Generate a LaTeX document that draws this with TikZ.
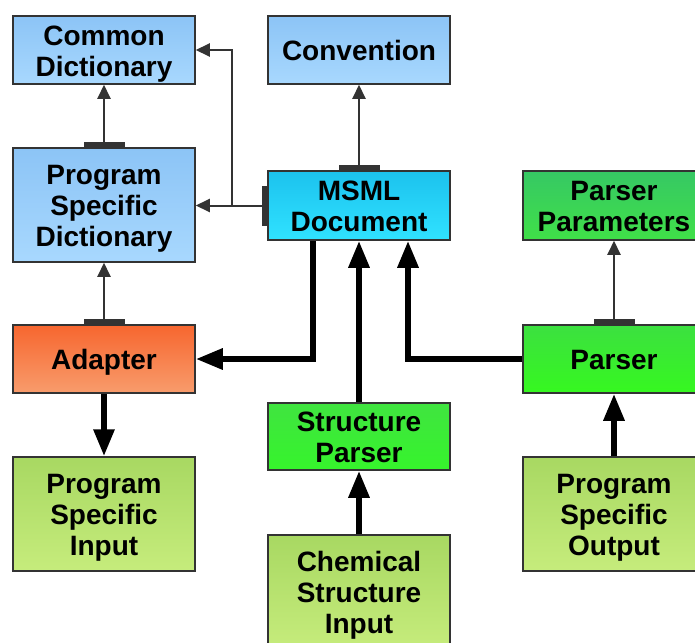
\documentclass[tikz,border=0pt]{standalone}
\usepackage{fontspec}
\setmainfont{Liberation Sans}
\usetikzlibrary{arrows.meta}

\definecolor{edgegray}{HTML}{333333}
\definecolor{blueA}{HTML}{8CC4F6}
\definecolor{blueB}{HTML}{A8D8FE}
\definecolor{cyanA}{HTML}{1CC2EE}
\definecolor{cyanB}{HTML}{30E2FF}
\definecolor{ppA}{HTML}{36C864}
\definecolor{ppB}{HTML}{40E048}
\definecolor{orA}{HTML}{F7662F}
\definecolor{orB}{HTML}{F89C6C}
\definecolor{grA}{HTML}{3CE040}
\definecolor{grB}{HTML}{36F820}
\definecolor{spA}{HTML}{40E440}
\definecolor{spB}{HTML}{36F42C}
\definecolor{olA}{HTML}{A8D862}
\definecolor{olB}{HTML}{C6EC7C}

% fixed top and bottom line extents so every label sits alike in its box
\newcommand{\topstrut}{\rule{0pt}{27pt}}
\newcommand{\botstrut}{\rule[-6pt]{0pt}{6pt}}

\tikzset{
  box/.style={draw=edgegray, line width=1.5pt, rectangle, align=center,
    minimum width=182pt, inner sep=0pt,
    font=\fontsize{28}{31}\selectfont\bfseries},
  bluebox/.style={box, top color=blueA, bottom color=blueB},
  cyanbox/.style={box, top color=cyanA, bottom color=cyanB},
  ppbox/.style={box, top color=ppA, bottom color=ppB},
  orbox/.style={box, top color=orA, bottom color=orB},
  grbox/.style={box, top color=grA, bottom color=grB},
  spbox/.style={box, top color=spA, bottom color=spB},
  olbox/.style={box, top color=olA, bottom color=olB},
  thinarrow/.style={draw=edgegray, line width=2pt,
    -{Triangle[length=14pt,width=13pt]}},
  thickarrow/.style={draw=black, line width=6pt,
    -{Triangle[length=27pt,width=20pt]}},
  teebar/.style={fill=edgegray},
}

\begin{document}
\begin{tikzpicture}[x=1pt,y=1pt]
\useasboundingbox (0,0) rectangle (695,-642);

% boxes
\node[bluebox, minimum height=68pt]  (cd)   at (104,-50)    {\topstrut Common\\Dictionary\botstrut};
\node[bluebox, minimum height=68pt]  (conv) at (359,-50)    {\topstrut Convention\botstrut};
\node[bluebox, minimum height=114pt] (psd)  at (104,-205)   {\topstrut Program\\Specific\\Dictionary\botstrut};
\node[cyanbox, minimum height=69pt]  (msml) at (359,-205.5) {\topstrut MSML\\Document\botstrut};
\node[ppbox, minimum height=69pt]    (pp)   at (614,-205.5) {\topstrut Parser\\Parameters\botstrut};
\node[orbox, minimum height=68pt]    (ad)   at (104,-359)   {\topstrut Adapter\botstrut};
\node[grbox, minimum height=68pt]    (par)  at (614,-359)   {\topstrut Parser\botstrut};
\node[spbox, minimum height=67pt]    (sp)   at (359,-436.5) {\topstrut Structure\\Parser\botstrut};
\node[olbox, minimum height=114pt]   (psi)  at (104,-514)   {\topstrut Program\\Specific\\Input\botstrut};
\node[olbox, minimum height=114pt]   (csi)  at (359,-592)   {\topstrut Chemical\\Structure\\Input\botstrut};
\node[olbox, minimum height=114pt]   (pso)  at (614,-514)   {\topstrut Program\\Specific\\Output\botstrut};

% thin references with tee ends
\draw[thinarrow] (psd.north) -- (cd.south);
\fill[teebar] ([xshift=-20.5pt]psd.north) rectangle ([xshift=20.5pt,yshift=5pt]psd.north);

\draw[thinarrow] (ad.north) -- (psd.south);
\fill[teebar] ([xshift=-20.5pt]ad.north) rectangle ([xshift=20.5pt,yshift=5pt]ad.north);

\draw[thinarrow] (msml.north) -- (conv.south);
\fill[teebar] ([xshift=-20.5pt]msml.north) rectangle ([xshift=20.5pt,yshift=5pt]msml.north);

\draw[thinarrow] (par.north) -- (pp.south);
\fill[teebar] ([xshift=-20.5pt]par.north) rectangle ([xshift=20.5pt,yshift=5pt]par.north);

\coordinate (jn) at (232,-205.5);
\draw[thinarrow] (msml.west) -- (msml.west -| psd.east);
\draw[thinarrow] (jn) |- (cd.east);
\fill[teebar] ([yshift=-20pt]msml.west) rectangle ([xshift=-5pt,yshift=20pt]msml.west);

% main data flow
\draw[thickarrow] ([xshift=-46pt]msml.south) |- (ad.east);
\draw[thickarrow] (par.west) -| ([xshift=49pt]msml.south);
\draw[thickarrow] (sp.north) -- (msml.south);
\draw[thickarrow] (ad.south) -- (psi.north);
\draw[thickarrow] (csi.north) -- (sp.south);
\draw[thickarrow] (pso.north) -- (par.south);
\end{tikzpicture}
\end{document}
